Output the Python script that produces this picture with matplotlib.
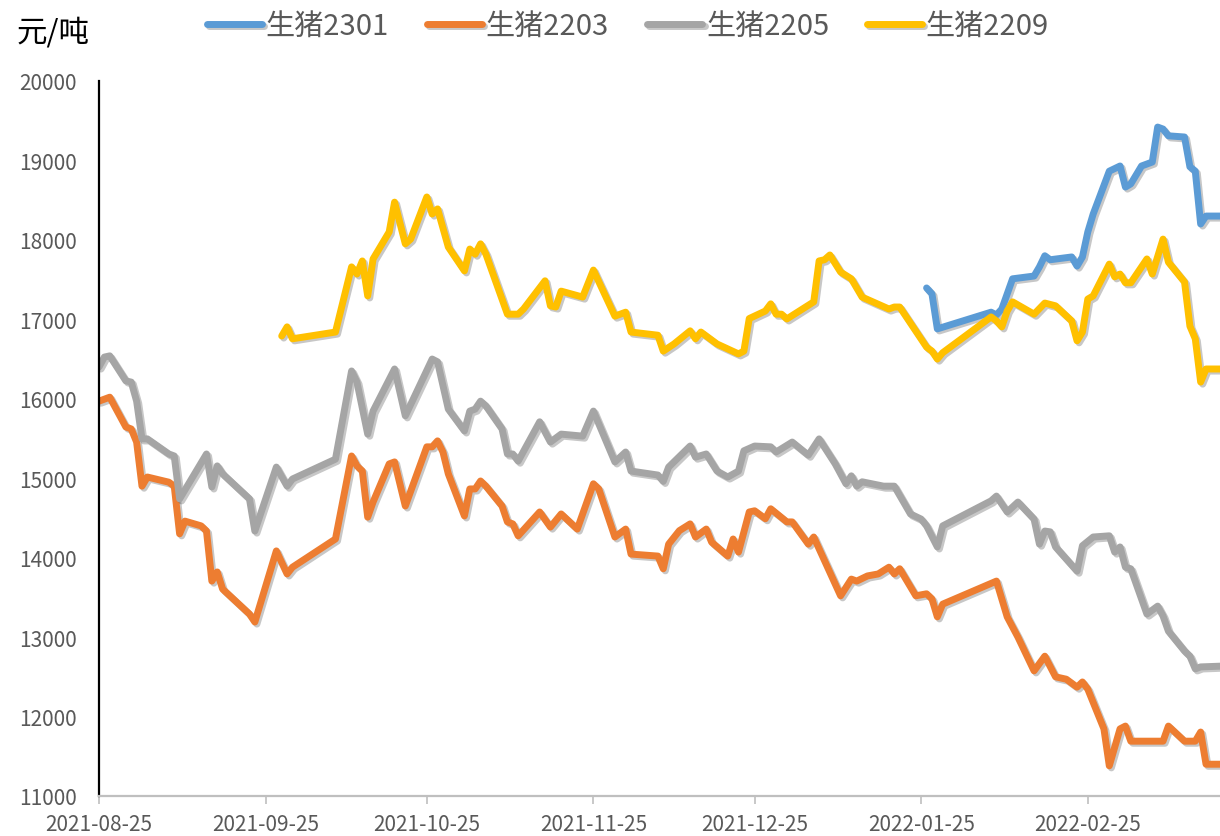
import matplotlib
matplotlib.use("Agg")
import matplotlib.pyplot as plt
import matplotlib.patheffects as pe
import pandas as pd

plt.rcParams['font.family'] = ['Noto Sans CJK SC', 'DejaVu Sans']

# ---- data (trading-day vertices) ----
dates_2301 = ['2022-01-26', '2022-01-27', '2022-01-28', '2022-02-07', '2022-02-08', '2022-02-09',
              '2022-02-11', '2022-02-15', '2022-02-16', '2022-02-17', '2022-02-18', '2022-02-22',
              '2022-02-23', '2022-02-24', '2022-02-25', '2022-02-26', '2022-03-01', '2022-03-03',
              '2022-03-04', '2022-03-05', '2022-03-07', '2022-03-09', '2022-03-10', '2022-03-11',
              '2022-03-12', '2022-03-15', '2022-03-16', '2022-03-17', '2022-03-18', '2022-03-19',
              '2022-03-22']
vals_2301 = [17395, 17320, 16880, 17090, 17055, 17130, 17510, 17545, 17660, 17800, 17750, 17785,
             17670, 17785, 18100, 18325, 18865, 18930, 18665, 18705, 18930, 18980, 19420, 19395,
             19310, 19295, 18920, 18865, 18200, 18300, 18300]

dates_2203 = ['2021-08-25', '2021-08-27', '2021-08-30', '2021-08-31', '2021-09-01', '2021-09-02',
              '2021-09-03', '2021-09-07', '2021-09-08', '2021-09-09', '2021-09-10', '2021-09-13',
              '2021-09-14', '2021-09-15', '2021-09-16', '2021-09-17', '2021-09-22', '2021-09-23',
              '2021-09-27', '2021-09-29', '2021-09-30', '2021-10-08', '2021-10-11', '2021-10-12',
              '2021-10-13', '2021-10-14', '2021-10-15', '2021-10-18', '2021-10-19', '2021-10-21',
              '2021-10-25', '2021-10-26', '2021-10-27', '2021-10-28', '2021-10-29', '2021-11-01',
              '2021-11-02', '2021-11-03', '2021-11-04', '2021-11-05', '2021-11-08', '2021-11-09',
              '2021-11-10', '2021-11-11', '2021-11-15', '2021-11-17', '2021-11-19', '2021-11-22',
              '2021-11-25', '2021-11-26', '2021-11-29', '2021-12-01', '2021-12-02', '2021-12-07',
              '2021-12-08', '2021-12-09', '2021-12-11', '2021-12-13', '2021-12-14', '2021-12-16',
              '2021-12-17', '2021-12-20', '2021-12-21', '2021-12-22', '2021-12-24', '2021-12-25',
              '2021-12-27', '2021-12-28', '2021-12-31', '2022-01-01', '2022-01-04', '2022-01-05',
              '2022-01-10', '2022-01-12', '2022-01-13', '2022-01-15', '2022-01-17', '2022-01-19',
              '2022-01-20', '2022-01-21', '2022-01-24', '2022-01-26', '2022-01-27', '2022-01-28',
              '2022-01-29', '2022-02-08', '2022-02-10', '2022-02-12', '2022-02-15', '2022-02-17',
              '2022-02-19', '2022-02-21', '2022-02-23', '2022-02-24', '2022-02-25', '2022-02-28',
              '2022-03-01', '2022-03-03', '2022-03-04', '2022-03-05', '2022-03-11', '2022-03-12',
              '2022-03-15', '2022-03-17', '2022-03-18', '2022-03-19', '2022-03-22']
vals_2203 = [15970, 16020, 15645, 15620, 15455, 14900, 15015, 14950, 14900, 14300, 14460, 14400,
             14335, 13705, 13820, 13605, 13290, 13190, 14085, 13795, 13880, 14235, 15280, 15155,
             15090, 14510, 14700, 15180, 15205, 14650, 15395, 15395, 15470, 15330, 15055, 14525,
             14865, 14865, 14965, 14900, 14650, 14450, 14425, 14275, 14575, 14385, 14550, 14360,
             14930, 14865, 14260, 14360, 14045, 14020, 13860, 14170, 14340, 14425, 14260, 14360,
             14195, 14020, 14235, 14070, 14575, 14590, 14490, 14615, 14450, 14450, 14170, 14260,
             13520, 13730, 13705, 13770, 13795, 13880, 13795, 13860, 13520, 13545, 13480, 13255,
             13415, 13705, 13255, 13000, 12575, 12760, 12500, 12470, 12370, 12435, 12345, 11845,
             11380, 11845, 11880, 11690, 11690, 11880, 11690, 11690, 11805, 11400, 11400]

dates_2205 = ['2021-08-25', '2021-08-26', '2021-08-27', '2021-08-30', '2021-08-31', '2021-09-01',
              '2021-09-02', '2021-09-03', '2021-09-07', '2021-09-08', '2021-09-09', '2021-09-14',
              '2021-09-15', '2021-09-16', '2021-09-17', '2021-09-22', '2021-09-23', '2021-09-27',
              '2021-09-29', '2021-09-30', '2021-10-08', '2021-10-11', '2021-10-12', '2021-10-14',
              '2021-10-15', '2021-10-19', '2021-10-21', '2021-10-26', '2021-10-27', '2021-10-29',
              '2021-11-01', '2021-11-02', '2021-11-03', '2021-11-04', '2021-11-05', '2021-11-08',
              '2021-11-09', '2021-11-10', '2021-11-11', '2021-11-15', '2021-11-17', '2021-11-19',
              '2021-11-23', '2021-11-25', '2021-11-29', '2021-12-01', '2021-12-02', '2021-12-07',
              '2021-12-08', '2021-12-09', '2021-12-13', '2021-12-14', '2021-12-16', '2021-12-18',
              '2021-12-20', '2021-12-22', '2021-12-23', '2021-12-25', '2021-12-28', '2021-12-29',
              '2022-01-01', '2022-01-04', '2022-01-06', '2022-01-09', '2022-01-11', '2022-01-12',
              '2022-01-13', '2022-01-14', '2022-01-18', '2022-01-20', '2022-01-23', '2022-01-25',
              '2022-01-26', '2022-01-28', '2022-01-29', '2022-02-07', '2022-02-08', '2022-02-10',
              '2022-02-12', '2022-02-15', '2022-02-16', '2022-02-17', '2022-02-18', '2022-02-19',
              '2022-02-23', '2022-02-24', '2022-02-26', '2022-03-01', '2022-03-02', '2022-03-03',
              '2022-03-04', '2022-03-05', '2022-03-08', '2022-03-10', '2022-03-11', '2022-03-12',
              '2022-03-15', '2022-03-16', '2022-03-17', '2022-03-18', '2022-03-22']
vals_2205 = [16400, 16525, 16540, 16225, 16210, 15970, 15495, 15495, 15305, 15280, 14740, 15305,
             14890, 15155, 15055, 14740, 14335, 15140, 14900, 14990, 15240, 16350, 16210, 15555,
             15845, 16375, 15785, 16500, 16465, 15870, 15595, 15845, 15870, 15970, 15910, 15620,
             15305, 15305, 15215, 15710, 15455, 15555, 15530, 15845, 15205, 15330, 15090, 15040,
             14960, 15140, 15405, 15265, 15305, 15090, 15015, 15090, 15345, 15405, 15395, 15330,
             15455, 15290, 15495, 15180, 14930, 15030, 14900, 14955, 14900, 14900, 14550, 14485,
             14400, 14135, 14400, 14715, 14775, 14575, 14700, 14485, 14170, 14335, 14325, 14135,
             13830, 14150, 14260, 14275, 14070, 14135, 13880, 13860, 13290, 13390, 13265, 13075,
             12825, 12760, 12600, 12625, 12635]

dates_2209 = ['2021-09-28', '2021-09-29', '2021-09-30', '2021-10-08', '2021-10-11', '2021-10-12',
              '2021-10-13', '2021-10-14', '2021-10-15', '2021-10-18', '2021-10-19', '2021-10-21',
              '2021-10-22', '2021-10-25', '2021-10-26', '2021-10-27', '2021-10-29', '2021-11-01',
              '2021-11-02', '2021-11-03', '2021-11-04', '2021-11-05', '2021-11-09', '2021-11-11',
              '2021-11-12', '2021-11-16', '2021-11-17', '2021-11-18', '2021-11-19', '2021-11-23',
              '2021-11-25', '2021-11-29', '2021-12-01', '2021-12-02', '2021-12-07', '2021-12-08',
              '2021-12-10', '2021-12-13', '2021-12-14', '2021-12-15', '2021-12-18', '2021-12-22',
              '2021-12-23', '2021-12-24', '2021-12-27', '2021-12-28', '2021-12-29', '2021-12-30',
              '2021-12-31', '2022-01-05', '2022-01-06', '2022-01-07', '2022-01-08', '2022-01-10',
              '2022-01-12', '2022-01-14', '2022-01-19', '2022-01-20', '2022-01-21', '2022-01-26',
              '2022-01-27', '2022-01-28', '2022-01-29', '2022-02-07', '2022-02-08', '2022-02-09',
              '2022-02-10', '2022-02-11', '2022-02-15', '2022-02-17', '2022-02-19', '2022-02-22',
              '2022-02-23', '2022-02-24', '2022-02-25', '2022-02-26', '2022-03-01', '2022-03-02',
              '2022-03-03', '2022-03-04', '2022-03-05', '2022-03-08', '2022-03-09', '2022-03-11',
              '2022-03-12', '2022-03-15', '2022-03-16', '2022-03-17', '2022-03-18', '2022-03-19',
              '2022-03-22']
vals_2209 = [16790, 16905, 16755, 16840, 17660, 17570, 17735, 17295, 17760, 18100, 18475, 17950,
             18010, 18540, 18325, 18390, 17910, 17610, 17885, 17820, 17950, 17820, 17065, 17065,
             17130, 17485, 17170, 17155, 17355, 17280, 17620, 17040, 17090, 16840, 16800, 16600,
             16690, 16855, 16755, 16840, 16690, 16565, 16600, 17010, 17105, 17195, 17065, 17065,
             17005, 17220, 17735, 17750, 17810, 17595, 17510, 17280, 17130, 17155, 17155, 16650,
             16600, 16500, 16580, 17030, 16980, 16905, 17105, 17220, 17065, 17205, 17170, 16980,
             16730, 16840, 17255, 17295, 17695, 17535, 17570, 17460, 17460, 17760, 17570, 18010,
             17720, 17470, 16915, 16755, 16210, 16375, 16375]

series = [
    ('生猪2301', dates_2301, vals_2301, '#5B9BD5'),
    ('生猪2203', dates_2203, vals_2203, '#ED7D31'),
    ('生猪2205', dates_2205, vals_2205, '#A5A5A5'),
    ('生猪2209', dates_2209, vals_2209, '#FFC000'),
]
tick_dates = ['2021-08-25', '2021-09-25', '2021-10-25', '2021-11-25',
              '2021-12-25', '2022-01-25', '2022-02-25']

W, H = 1220, 837
fig = plt.figure(figsize=(W / 100, H / 100), dpi=100)
ax = fig.add_axes([99 / W, 1 - 797 / H, (W - 99) / W, (797 - 82) / H])

shadow = [pe.SimpleLineShadow(offset=(1.5, -1.5), shadow_color='k', alpha=0.22), pe.Normal()]
for name, d, v, c in series:
    ax.plot(pd.to_datetime(d), v, color=c, lw=5, label=name,
            solid_joinstyle='round', solid_capstyle='round', path_effects=shadow)

start = pd.Timestamp('2021-08-25')
ax.set_xlim(start, start + pd.Timedelta(days=208.6))
ax.set_ylim(11000, 20000)
ax.set_yticks(range(11000, 20001, 1000))
ax.set_xticks(pd.to_datetime(tick_dates))
ax.set_xticklabels(tick_dates)

for s in ['top', 'right']:
    ax.spines[s].set_visible(False)
ax.spines['left'].set_color('black')
ax.spines['left'].set_linewidth(1.6)
ax.spines['bottom'].set_color('#BFBFBF')
ax.spines['bottom'].set_linewidth(1.6)

ax.tick_params(axis='y', length=0, pad=16, labelsize=15, labelcolor='#595959')
ax.tick_params(axis='x', length=6, width=1.2, color='#BFBFBF', pad=6,
               labelsize=15, labelcolor='#595959')

fig.text(17 / W, 1 - 33 / H, '元/吨', fontsize=22, color='black', va='center', ha='left')

fig.legend(loc='center', bbox_to_anchor=(628 / W, 1 - 27 / H), ncol=4, frameon=False,
           fontsize=21, labelcolor='#595959', handlelength=1.9, handletextpad=0.12,
           columnspacing=1.3, borderpad=0)

fig.savefig('out.png', dpi=100)
